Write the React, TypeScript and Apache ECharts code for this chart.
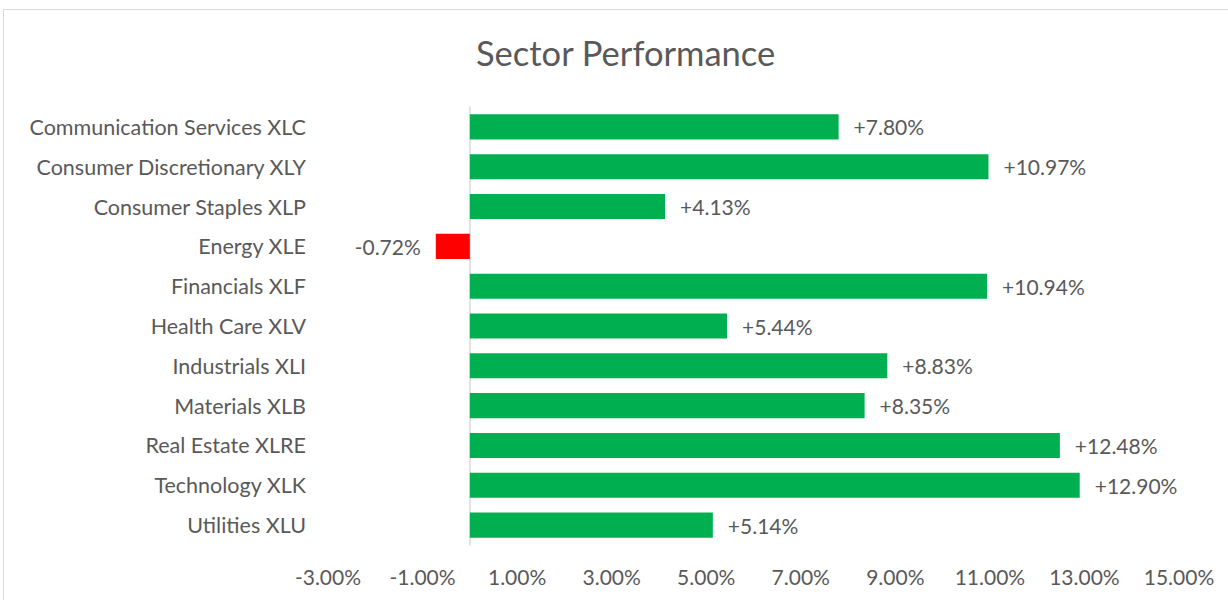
import React, { useEffect, useRef } from "react";
import * as echarts from "echarts";

const categories = [
  "Communication Services XLC",
  "Consumer Discretionary XLY",
  "Consumer Staples XLP",
  "Energy XLE",
  "Financials XLF",
  "Health Care XLV",
  "Industrials XLI",
  "Materials XLB",
  "Real Estate XLRE",
  "Technology XLK",
  "Utilities XLU",
];
const values = [7.8, 10.97, 4.13, -0.72, 10.94, 5.44, 8.83, 8.35, 12.48, 12.9, 5.14];
const axisMin = -3;
const axisMax = 15;
const axisStep = 2;

const TEXT = "#595959";
const FONT = "Lato, 'Noto Sans', sans-serif";

export default function App() {
  const ref = useRef<HTMLDivElement>(null);
  useEffect(() => {
    if (!ref.current) return;
    const chart = echarts.init(ref.current, null, { renderer: "svg" });
    chart.setOption({
      animation: false,
      backgroundColor: "#ffffff",
      textStyle: { fontFamily: FONT },
      title: {
        text: "Sector Performance",
        left: 471,
        top: 30,
        textStyle: { fontFamily: FONT, fontSize: 34.5, fontWeight: "normal", color: TEXT },
      },
      graphic: [
        {
          type: "rect",
          shape: { x: 3.5, y: 9.5, width: 1240, height: 600 },
          style: { fill: "none", stroke: "#d9d9d9", lineWidth: 1 },
          silent: true,
        },
      ],
      grid: {
        left: 328,
        right: 49,
        top: 107,
        bottom: 55,
        containLabel: false,
        outerBoundsMode: "none",
      },
      xAxis: {
        type: "value",
        min: axisMin,
        max: axisMax,
        interval: axisStep,
        splitLine: { show: false },
        axisLine: { show: false },
        axisTick: { show: false },
        axisLabel: {
          color: TEXT,
          fontFamily: FONT,
          fontSize: 21,
          margin: 21,
          formatter: (v: number) => v.toFixed(2) + "%",
        },
      },
      yAxis: {
        type: "category",
        data: categories,
        inverse: true,
        axisLine: { show: true, onZero: true, lineStyle: { color: "#d9d9d9", width: 1.5 } },
        axisTick: { show: false },
        splitLine: { show: false },
        axisLabel: { color: TEXT, fontFamily: FONT, fontSize: 21.5, margin: 22 },
      },
      series: [
        {
          type: "bar",
          barWidth: "63%",
          data: values.map((v) => ({
            value: v,
            itemStyle: { color: v < 0 ? "#FF0000" : "#00B050" },
            label: {
              show: true,
              position: v < 0 ? "left" : "right",
              distance: 15,
              color: TEXT,
              fontFamily: FONT,
              fontSize: 21,
              formatter: () => (v > 0 ? "+" : "") + v.toFixed(2) + "%",
            },
          })),
        },
      ],
    });
    return () => chart.dispose();
  }, []);
  return (
    <div
      ref={ref}
      style={{ position: "fixed", left: 0, top: 0, width: 1228, height: 600 }}
    />
  );
}
